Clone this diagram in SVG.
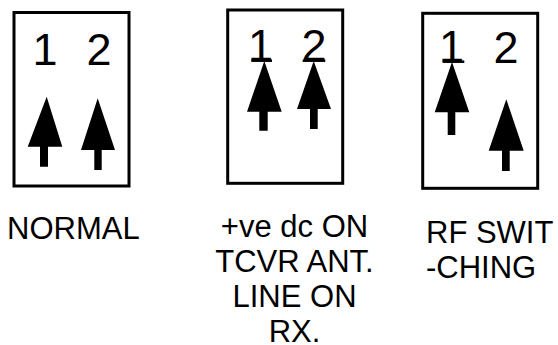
<svg xmlns="http://www.w3.org/2000/svg" width="558" height="345" viewBox="0 0 558 345">
  <style>
    .box { fill: #fff; stroke: #000; stroke-width: 3; }
    .digit { font-family: "Liberation Sans", Arial, sans-serif; font-size: 45px; fill: #000; }
    .label { font-family: "Liberation Sans", Arial, sans-serif; font-size: 31px; fill: #000; }
    .arrow { fill: #000; stroke: none; }
    .bar { stroke: #000; stroke-width: 2.5; }
  </style>
  <rect width="558" height="345" fill="#fff"/>

  <!-- Normal position -->
  <g id="switch-normal">
    <rect class="box" x="14" y="12.5" width="115" height="173.5"/>
    <text class="digit" x="32.5" y="65">1</text>
    <text class="digit" x="86.5" y="65">2</text>
    <path class="arrow" d="M46.7 96.7 L62.3 146.7 L48 146.7 L48 166.7 L40 166.7 L40 146.7 L27.7 146.7 Z"/>
    <path class="arrow" d="M97.7 98.3 L115 150 L101.7 150 L101.7 170 L94.3 170 L94.3 150 L81 150 Z"/>
    <text class="label" x="7" y="238.5">NORMAL</text>
  </g>

  <!-- DC on antenna line during receive -->
  <g id="switch-dc">
    <rect class="box" x="227.7" y="10" width="115" height="173.3"/>
    <text class="digit" x="248" y="61">1</text>
    <text class="digit" x="301.5" y="61">2</text>
    <line class="bar" x1="251.3" y1="60.7" x2="272" y2="60.7"/>
    <line class="bar" x1="302.7" y1="60.7" x2="325.3" y2="60.7"/>
    <path class="arrow" d="M264.3 61 L281.7 111.7 L267.7 111.7 L267.7 130.7 L259.3 130.7 L259.3 111.7 L247 111.7 Z"/>
    <path class="arrow" d="M313.7 61 L331 109 L317.7 109 L317.7 129 L310 129 L310 109 L297 109 Z"/>
    <text class="label" text-anchor="middle" x="294.5" y="237">+ve dc ON</text>
    <text class="label" text-anchor="middle" x="294.5" y="272">TCVR ANT.</text>
    <text class="label" text-anchor="middle" x="294.5" y="307">LINE ON</text>
    <text class="label" text-anchor="middle" x="294.5" y="342">RX.</text>
  </g>

  <!-- RF switching -->
  <g id="switch-rf">
    <rect class="box" x="422.7" y="13.3" width="115" height="175"/>
    <text class="digit" x="439" y="62">1</text>
    <text class="digit" x="493.5" y="63">2</text>
    <line class="bar" x1="442.7" y1="61.7" x2="464.3" y2="61.7"/>
    <path class="arrow" d="M452 62 L469.3 112.3 L455.3 112.3 L455.3 135 L447.7 135 L447.7 112.3 L434.7 112.3 Z"/>
    <path class="arrow" d="M506.3 99.3 L523.7 150.7 L509.7 150.7 L509.7 171 L502 171 L502 150.7 L488.7 150.7 Z"/>
    <text class="label" x="426" y="243.3">RF SWIT</text>
    <text class="label" x="426" y="278.3">-CHING</text>
  </g>
</svg>
